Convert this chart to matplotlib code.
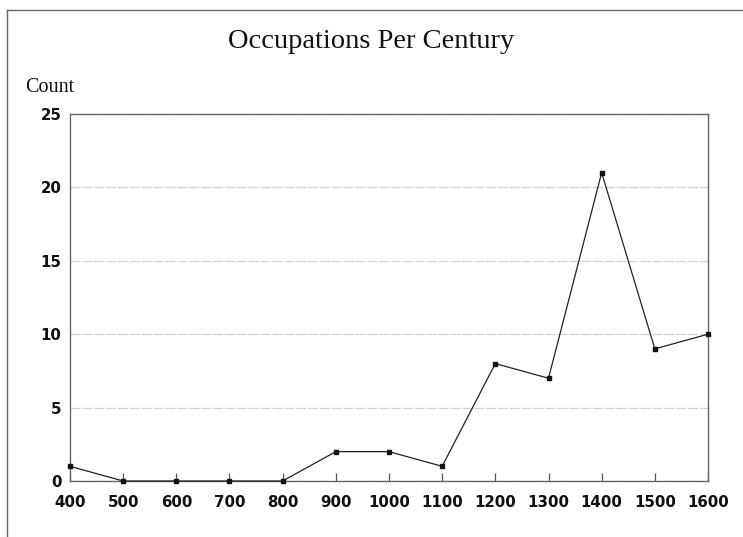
import numpy as np
import matplotlib.pyplot as plt
from matplotlib.lines import Line2D

# data
centuries = [400, 500, 600, 700, 800, 900, 1000, 1100, 1200, 1300, 1400, 1500, 1600]
counts = [1, 0, 0, 0, 0, 2, 2, 1, 8, 7, 21, 9, 10]
y_ticks = [0, 5, 10, 15, 20, 25]

fig = plt.figure(figsize=(7.43, 5.37), dpi=100)
ax = fig.add_axes([0.0942, 0.1043, 0.8587, 0.6834])

ax.plot(centuries, counts, color="#222222", lw=0.9, marker="s", ms=2.6,
        mfc="#111111", mec="#111111", clip_on=False, zorder=3)

ax.set_xlim(400, 1600)
ax.set_ylim(0, 25)
ax.set_xticks(centuries)
ax.set_yticks(y_ticks)
ax.yaxis.grid(True, color="#d2d2d2", lw=0.9, ls=(0, (8, 1.5)))
ax.set_axisbelow(True)

for s in ax.spines.values():
    s.set_color("#666666")
    s.set_linewidth(1.0)

ax.tick_params(axis="x", direction="in", length=6, width=0.9, color="#555555", pad=10)
ax.tick_params(axis="y", length=0, pad=6)
for lab in ax.get_xticklabels() + ax.get_yticklabels():
    lab.set_fontfamily("DejaVu Sans")
    lab.set_fontweight("bold")
    lab.set_fontsize(10.8)
    lab.set_color("#111111")

fig.text(0.5, 1 - 42 / 537, "Occupations Per Century", ha="center", va="center",
         family="Liberation Serif", fontsize=20.5, color="#111111")
fig.text(25 / 743, 1 - 88 / 537, "Count", ha="left", va="center",
         family="Liberation Serif", fontsize=14.5, color="#111111")

# partial frame around the figure
fig.add_artist(Line2D([7 / 743, 1], [1 - 10 / 537, 1 - 10 / 537], color="#666666", lw=1.0))
fig.add_artist(Line2D([7 / 743, 7 / 743], [0, 1 - 10 / 537], color="#666666", lw=1.0))

fig.savefig("out.png", dpi=100)
